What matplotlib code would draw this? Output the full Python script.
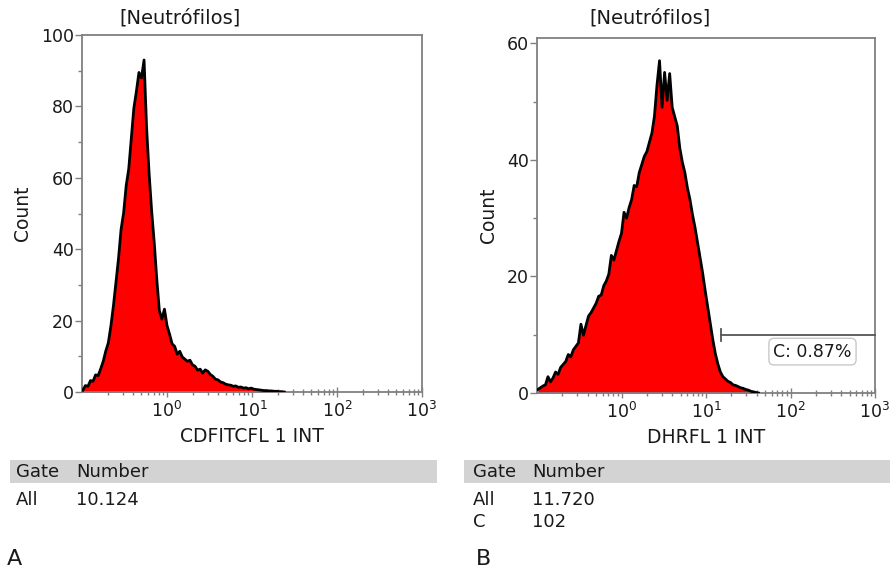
import numpy as np
import matplotlib
matplotlib.use("Agg")
import matplotlib.pyplot as plt
from matplotlib.ticker import FixedLocator, LogLocator, MultipleLocator, NullFormatter

plt.rcParams["font.family"] = ["DejaVu Sans"]

# Histogram channels: log10 position of the first channel and channel width (decades)
LOG_START = -0.99
LOG_STEP = 0.03

# Panel A - CDFITCFL 1 INT (counts per channel)
counts_a = [
    0.5, 1.8, 1.6, 3.2, 3.0, 4.8, 4.6, 6.5, 8.6, 11.5,
    13.8, 18.5, 24.2, 30.8, 37.5, 45.6, 50.2, 57.8, 62.5, 71.0,
    79.5, 84.2, 89.5, 88.0, 93.0, 74.0, 61.0, 50.5, 41.8, 31.5,
    22.8, 20.4, 23.2, 18.6, 16.2, 13.5, 12.8, 10.6, 11.4, 9.8,
    9.2, 8.6, 8.9, 7.6, 7.2, 6.1, 6.4, 5.3, 6.2, 5.8,
    4.9, 4.4, 3.6, 3.4, 2.8, 2.6, 2.2, 2.0, 1.9, 1.6,
    1.7, 1.3, 1.4, 1.1, 1.2, 0.9, 1.1, 0.8, 0.7, 0.6,
    0.5, 0.4, 0.4, 0.3, 0.3, 0.2, 0.2, 0.1, 0.1, 0.0,
]

# Panel B - DHRFL 1 INT
counts_b = [
    0.6, 0.9, 1.2, 1.4, 2.8, 1.9, 2.6, 3.6, 3.2, 4.4,
    4.9, 5.4, 6.6, 6.2, 7.4, 8.0, 8.6, 11.8, 9.9, 11.6,
    13.2, 13.8, 14.6, 15.4, 16.6, 16.8, 18.4, 19.2, 20.4, 23.6,
    22.8, 24.4, 26.0, 27.4, 31.0, 30.0, 31.8, 33.2, 35.6, 35.4,
    37.8, 39.2, 40.6, 41.4, 43.0, 44.6, 47.5, 52.8, 57.0, 49.0,
    55.0, 50.2, 54.8, 49.0, 47.4, 45.8, 42.0, 39.6, 37.8, 35.2,
    33.2, 30.6, 28.4, 25.8, 23.2, 20.6, 17.6, 14.8, 12.0, 9.2,
    6.8, 5.0, 3.6, 2.8, 2.4, 2.0, 1.8, 1.4, 1.3, 1.1,
    0.9, 0.8, 0.6, 0.5, 0.3, 0.2, 0.1, 0.0,
]

# Gate C on panel B
gate_c_start = 15.0
gate_c_level = 10.0
gate_c_label = "C: 0.87%"

title = "[Neutrófilos]"
xlabels = ["CDFITCFL 1 INT", "DHRFL 1 INT"]
ymax = [100, 60.9]
yticks = [[0, 20, 40, 60, 80, 100], [0, 20, 40, 60]]
table_rows = [
    [("All", "10.124")],
    [("All", "11.720"), ("C", "102")],
]
panel_letters = ["A", "B"]

W, H = 892, 572
GRAY = "#808080"
TXT = "#1a1a1a"


def px(x, y):
    return x / W, 1 - y / H


def draw_hist(ax, counts, top, ticks, xlabel):
    x = 10 ** (LOG_START + LOG_STEP * np.arange(len(counts)))
    ax.fill_between(x, counts, 0, color="#ff0000", lw=0, zorder=2)
    ax.plot(x, counts, color="black", lw=2.0, zorder=3)
    ax.set_xscale("log")
    ax.set_xlim(0.1, 1000)
    ax.set_ylim(0, top)
    ax.xaxis.set_major_locator(FixedLocator([1, 10, 100, 1000]))
    ax.xaxis.set_minor_locator(LogLocator(base=10, subs=np.arange(2, 10), numticks=20))
    ax.xaxis.set_minor_formatter(NullFormatter())
    ax.set_yticks(ticks)
    ax.yaxis.set_minor_locator(MultipleLocator(10))
    ax.tick_params(axis="x", which="major", direction="inout", length=7, width=1,
                   color=GRAY, labelsize=12.5, labelcolor=TXT, pad=3)
    ax.tick_params(axis="x", which="minor", direction="inout", length=4, width=1, color=GRAY)
    ax.tick_params(axis="y", which="major", direction="out", length=5, width=1,
                   color=GRAY, labelsize=12.5, labelcolor=TXT, pad=1)
    ax.tick_params(axis="y", which="minor", direction="out", length=3, width=1, color=GRAY)
    for s in ax.spines.values():
        s.set_color(GRAY)
        s.set_linewidth(1.3)
    ax.set_xlabel(xlabel, fontsize=13.5, color=TXT, labelpad=4)
    ax.set_ylabel("Count", fontsize=13.5, color=TXT, labelpad=6)


fig = plt.figure(figsize=(W / 100, H / 100), dpi=100)

ax_a = fig.add_axes([82 / W, 1 - 392 / H, 340 / W, 357 / H])
ax_b = fig.add_axes([537 / W, 1 - 393 / H, 338 / W, 355 / H])

draw_hist(ax_a, counts_a, ymax[0], yticks[0], xlabels[0])
draw_hist(ax_b, counts_b, ymax[1], yticks[1], xlabels[1])

# gate C marker
ax_b.plot([gate_c_start, 1000], [gate_c_level, gate_c_level], color="#555555", lw=1.3,
          zorder=4, clip_on=False)
ax_b.plot([gate_c_start, gate_c_start], [gate_c_level - 1.0, gate_c_level + 1.0],
          color="#555555", lw=1.3, zorder=4)
ax_b.text(10 ** 2.26, gate_c_level - 2.9, gate_c_label, fontsize=12.5, color=TXT,
          ha="center", va="center", zorder=5,
          bbox=dict(boxstyle="round,pad=0.25,rounding_size=0.3", fc="white",
                    ec="#c8c8c8", lw=1))

# titles
fig.text(*px(180, 18), title, fontsize=14, color=TXT, ha="center", va="center")
fig.text(*px(650, 18), title, fontsize=14, color=TXT, ha="center", va="center")

# gate tables under each plot
for i, (x0, x1, col2) in enumerate([(10, 437, 76), (464, 890, 532)]):
    bar = plt.Rectangle(px(x0, 483), (x1 - x0) / W, 23 / H, transform=fig.transFigure,
                        color="#d3d3d3", lw=0, zorder=0)
    fig.add_artist(bar)
    xt = x0 + 6 if i == 0 else x0 + 9
    fig.text(*px(xt, 472), "Gate", fontsize=13, color=TXT, va="center")
    fig.text(*px(col2, 472), "Number", fontsize=13, color=TXT, va="center")
    for j, (g, n) in enumerate(table_rows[i]):
        y = 500 + 22 * j
        fig.text(*px(xt, y), g, fontsize=13, color=TXT, va="center")
        fig.text(*px(col2, y), n, fontsize=13, color=TXT, va="center")

fig.text(*px(7, 559), panel_letters[0], fontsize=16, color=TXT, va="center")
fig.text(*px(476, 559), panel_letters[1], fontsize=16, color=TXT, va="center")

fig.savefig("out.png", dpi=100)
